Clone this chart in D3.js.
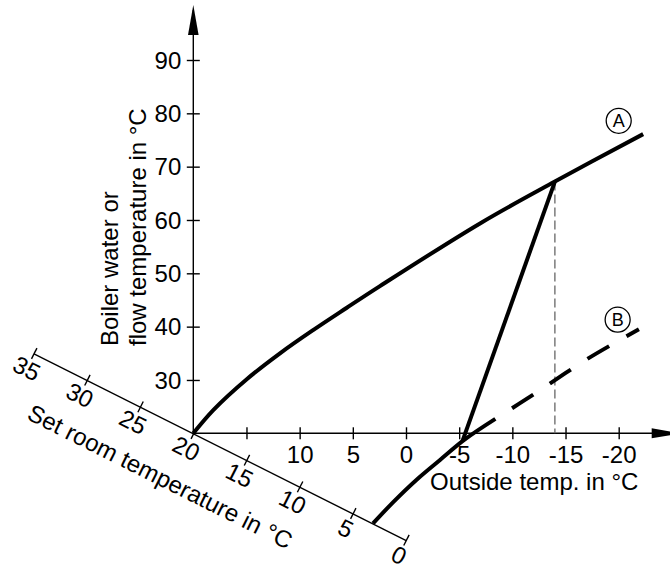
<!DOCTYPE html>
<html>
<head>
<meta charset="utf-8">
<script src="https://cdn.jsdelivr.net/npm/d3@7"></script>
<style>
body { margin: 0; background: #fff; }
svg { display: block; }
text { font-family: "Liberation Sans", Arial, sans-serif; fill: #000; }
</style>
</head>
<body>
<div id="chart"></div>
<script>
// axis ticks
var outsideTicks = [15, 10, 5, 0, -5, -10, -15, -20];
var outsideLabels = ["", "10", "5", "0", "-5", "-10", "-15", "-20"];
var flowTicks = [30, 40, 50, 60, 70, 80, 90];
var roomTicks = [35, 30, 25, 20, 15, 10, 5, 0];

// curve A: outside temp -> flow temp
var curveAOutside = [20, 18.1, 15, 11.85, 8.7, 5.6, 2.45, -7, -14, -22.3];
var curveAFlow    = [20, 24.4, 30.1, 35, 39.4, 43.5, 47.6, 59.4, 67.2, 76.1];

// curve B, solid part then dashed part
var curveBOutside = [3.1, 1.2, -1, -3.2, -5.5, -8.4];
var curveBFlow    = [3.1, 7.1, 11.3, 15, 18.8, 22.7];
var curveBDashOutside = [-8.4, -12, -17.1, -21.9];
var curveBDashFlow    = [22.7, 27.3, 34, 39.5];

// straight line from A down to B, and the drop line
var shiftOutside = [-14, -5.3];
var shiftFlow    = [67.2, 18.5];
var dropOutside = [-14, -14];
var dropFlow    = [67.2, 20];

// circled curve names
var markNames   = ["A", "B"];
var markOutside = [-20, -19.9];
var markFlow    = [78.6, 41.3];

var yLabelLines = ["Boiler water or", "flow temperature in °C"];
var xLabel = "Outside temp. in °C";
var roomLabel = "Set room temperature in °C";

var width = 670, height = 566;

var svg = d3.select("#chart").append("svg")
    .attr("width", width)
    .attr("height", height);

var x = d3.scaleLinear().domain([20, -20]).range([193.3, 618.7]);
var y = d3.scaleLinear().domain([20, 90]).range([433.3, 60]);

function pts(xs, ys) {
    return xs.map(function (d, i) { return [d, ys[i]]; });
}

var line = d3.line()
    .x(function (d) { return x(d[0]); })
    .y(function (d) { return y(d[1]); });
var smooth = d3.line()
    .x(function (d) { return x(d[0]); })
    .y(function (d) { return y(d[1]); })
    .curve(d3.curveCatmullRom.alpha(0.5));

var x0 = x(20), y0 = y(20);

// main axis lines + arrows
svg.append("line")
    .attr("x1", x0).attr("y1", y0).attr("x2", x0).attr("y2", 10)
    .style("stroke", "#000").style("stroke-width", 1.4);
svg.append("path")
    .attr("d", "M" + x0 + ",5L" + (x0 - 5.3) + ",35L" + (x0 + 5.3) + ",35Z")
    .style("fill", "#000");
svg.append("line")
    .attr("x1", x0).attr("y1", y0).attr("x2", 672).attr("y2", y0)
    .style("stroke", "#000").style("stroke-width", 1.4);
svg.append("path")
    .attr("d", "M681," + y0 + "L651.7," + (y0 - 5) + "L651.7," + (y0 + 5) + "Z")
    .style("fill", "#000");

// x axis (outside temp)
var gx = svg.append("g")
    .attr("transform", "translate(0," + y0 + ")")
    .call(d3.axisBottom(x).tickValues(outsideTicks).tickSizeOuter(0)
        .tickFormat(function (d, i) { return outsideLabels[i]; }));
gx.select(".domain").remove();
gx.selectAll(".tick line").attr("y1", -6).attr("y2", 6)
    .style("stroke", "#000").style("stroke-width", 1.4);
gx.selectAll(".tick text").attr("y", 30).attr("dy", 0)
    .style("font-size", "24px").style("font-family", "Liberation Sans, Arial, sans-serif");

// y axis (flow temp)
var gy = svg.append("g")
    .attr("transform", "translate(" + x0 + ",0)")
    .call(d3.axisLeft(y).tickValues(flowTicks).tickSizeOuter(0));
gy.select(".domain").remove();
gy.selectAll(".tick line").attr("x1", -6.5).attr("x2", 6.5)
    .style("stroke", "#000").style("stroke-width", 1.4);
gy.selectAll(".tick text").attr("x", -12).attr("dy", "0.34em")
    .style("font-size", "24px").style("font-family", "Liberation Sans, Arial, sans-serif");

// oblique axis (set room temp) along the line outside = flow
var ax = x(35), ay = y(35), bx = x(0), by = y(0);
var len = Math.hypot(bx - ax, by - ay);
var ang = Math.atan2(by - ay, bx - ax) * 180 / Math.PI;
var o = d3.scaleLinear().domain([35, 0]).range([0, len]);
var go = svg.append("g")
    .attr("transform", "translate(" + ax + "," + ay + ") rotate(" + ang + ")")
    .call(d3.axisBottom(o).tickValues(roomTicks).tickSizeOuter(0));
go.select(".domain").style("stroke", "#000").style("stroke-width", 1.4);
go.selectAll(".tick line").attr("y1", -6).attr("y2", 6)
    .style("stroke", "#000").style("stroke-width", 1.4);
go.selectAll(".tick text").attr("y", 18).attr("dy", "0.3em")
    .style("font-size", "24px").style("font-family", "Liberation Sans, Arial, sans-serif");
go.append("text")
    .attr("x", 22).attr("y", 62)
    .attr("text-anchor", "start")
    .style("font-size", "24px")
    .text(roomLabel);

// axis titles
svg.append("text")
    .attr("x", 430).attr("y", 490)
    .style("font-size", "24px")
    .text(xLabel);
svg.selectAll(".ylab")
    .data(yLabelLines)
    .enter().append("text")
    .attr("class", "ylab")
    .attr("transform", function (d, i) { return "translate(" + (118 + i * 28) + ",346) rotate(-90)"; })
    .style("font-size", "24px")
    .text(function (d) { return d; });

// drop line
svg.append("path")
    .attr("d", line(pts(dropOutside, dropFlow)))
    .style("fill", "none").style("stroke", "#666").style("stroke-width", 1.3)
    .style("stroke-dasharray", "9,4");

// curves
svg.append("path")
    .attr("d", smooth(pts(curveAOutside, curveAFlow)))
    .style("fill", "none").style("stroke", "#000").style("stroke-width", 4);
svg.append("path")
    .attr("d", smooth(pts(curveBOutside, curveBFlow)))
    .style("fill", "none").style("stroke", "#000").style("stroke-width", 4);
svg.append("path")
    .attr("d", smooth(pts(curveBDashOutside, curveBDashFlow)))
    .style("fill", "none").style("stroke", "#000").style("stroke-width", 4)
    .style("stroke-dasharray", "25,20").style("stroke-dashoffset", 25);
svg.append("path")
    .attr("d", line(pts(shiftOutside, shiftFlow)))
    .style("fill", "none").style("stroke", "#000").style("stroke-width", 4);

// circled names
var marks = svg.selectAll(".mark")
    .data(markNames)
    .enter().append("g")
    .attr("class", "mark")
    .attr("transform", function (d, i) { return "translate(" + x(markOutside[i]) + "," + y(markFlow[i]) + ")"; });
marks.append("circle")
    .attr("r", 12.5)
    .style("fill", "none").style("stroke", "#000").style("stroke-width", 1.3);
marks.append("text")
    .attr("text-anchor", "middle")
    .attr("dy", "0.36em")
    .style("font-size", "18px")
    .text(function (d) { return d; });
</script>
</body>
</html>
